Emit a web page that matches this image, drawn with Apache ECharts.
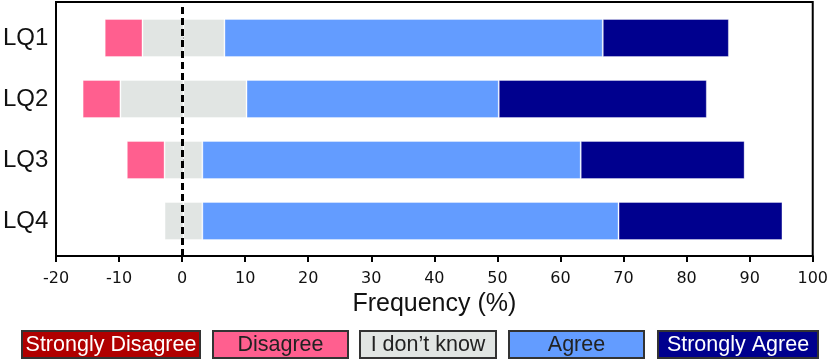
<!DOCTYPE html>
<html>
<head>
<meta charset="utf-8">
<script src="https://cdn.jsdelivr.net/npm/echarts@6/dist/echarts.min.js"></script>
<style>
  html, body { margin: 0; padding: 0; background: #fff; }
  #chart { width: 831px; height: 360px; }
</style>
</head>
<body>
<div id="chart"></div>
<script>
const categories = ['LQ1', 'LQ2', 'LQ3', 'LQ4']
const stronglyDisagree = [0, 0, 0, 0]
const disagree = [6, 6, 6, 0]
const dontKnow = [13, 20, 6, 6]
const agree = [60, 40, 60, 66]
const stronglyAgree = [20, 33, 26, 26]

const xTicks = { min: -20, max: 100, interval: 10 }

const legendNames = ['Strongly Disagree', 'Disagree', 'I don\u2019t know', 'Agree', 'Strongly Agree']
const legendColors = ['#b00000', '#ff5f8f', '#e1e5e3', '#639cff', '#00008e']
const legendTextColors = ['#fff', '#222', '#222', '#222', '#fff']

// box positions of the legend (styling only)
const legendBoxes = [[21, 178], [212, 135], [359, 136], [508, 135], [657, 160]]

const chart = echarts.init(document.getElementById('chart'))

const bar = (name, data, color) => ({
  name,
  type: 'bar',
  stack: 'total',
  xAxisIndex: 1,
  yAxisIndex: 1,
  barWidth: 38,
  data,
  itemStyle: { color, borderColor: 'rgba(255,255,255,0.35)', borderWidth: 1 },
  emphasis: { disabled: true },
})

// negative side: half of "I don't know", then disagree, strongly disagree
// positive side: other half, agree, strongly agree
const series = [
  bar('I don\u2019t know', dontKnow.map(v => -v / 2), legendColors[2]),
  bar('Disagree', disagree.map(v => -v), legendColors[1]),
  bar('Strongly Disagree', stronglyDisagree.map(v => -v), legendColors[0]),
  bar('I don\u2019t know ', dontKnow.map(v => v / 2), legendColors[2]),
  bar('Agree', agree, legendColors[3]),
  bar('Strongly Agree', stronglyAgree, legendColors[4]),
  {
    type: 'line',
    xAxisIndex: 0,
    yAxisIndex: 0,
    data: [],
    silent: true,
    markLine: {
      symbol: 'none',
      silent: true,
      label: { show: false },
      lineStyle: { color: '#000', width: 3, type: [7, 4] },
      data: [{ xAxis: 0 }],
    },
  },
]

const legendGraphic = legendNames.map((name, i) => ({
  type: 'group',
  left: legendBoxes[i][0],
  top: 330,
  children: [
    {
      type: 'rect',
      shape: { x: 0, y: 0, width: legendBoxes[i][1], height: 27 },
      style: { fill: legendColors[i], stroke: '#333', lineWidth: 2 },
    },
    {
      type: 'text',
      x: legendBoxes[i][1] / 2,
      y: 14,
      style: {
        text: name,
        fill: legendTextColors[i],
        font: '21.5px "Liberation Sans", Arial, sans-serif',
        align: 'center',
        verticalAlign: 'middle',
      },
    },
  ],
}))

chart.setOption({
  animation: false,
  grid: [
    { left: 56, right: 17, top: 2, bottom: 104, show: true, borderColor: '#000', borderWidth: 2, backgroundColor: 'transparent' },
    { left: 56, right: 17, top: 7.5, bottom: 108.5 },
  ],
  xAxis: [
    {
      gridIndex: 0,
      type: 'value',
      min: xTicks.min,
      max: xTicks.max,
      interval: xTicks.interval,
      axisLine: { show: true, lineStyle: { color: '#000', width: 2 } },
      axisTick: { show: true, length: 6, lineStyle: { color: '#000', width: 2 } },
      axisLabel: { color: '#111', fontSize: 16, fontFamily: 'DejaVu Sans', margin: 15 },
      splitLine: { show: false },
      name: 'Frequency (%)',
      nameLocation: 'middle',
      nameGap: 35,
      nameTextStyle: { color: '#111', fontSize: 25, fontFamily: 'Liberation Sans' },
    },
    {
      gridIndex: 1,
      type: 'value',
      min: xTicks.min,
      max: xTicks.max,
      show: false,
      splitLine: { show: false },
    },
  ],
  yAxis: [
    { gridIndex: 0, type: 'value', min: 0, max: 1, show: false, splitLine: { show: false } },
    {
      gridIndex: 1,
      type: 'category',
      inverse: true,
      data: categories,
      axisLine: { show: false },
      axisTick: { show: true, length: 6, alignWithLabel: true, lineStyle: { color: '#000', width: 2 } },
      axisLabel: { color: '#111', fontSize: 24, fontFamily: 'Liberation Sans', margin: 9 },
    },
  ],
  graphic: legendGraphic,
  series,
})
</script>
</body>
</html>
